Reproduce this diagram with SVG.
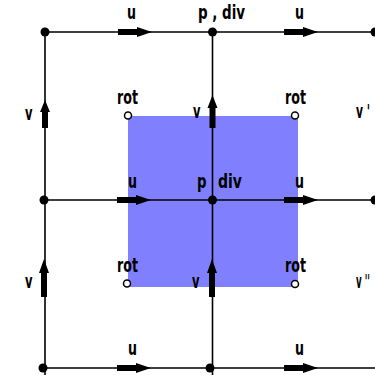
<svg xmlns="http://www.w3.org/2000/svg" width="375" height="375" viewBox="0 0 375 375">
<style>
.ln{stroke:#000;stroke-width:1.6;fill:none}
.t{font-family:"DejaVu Sans Condensed","DejaVu Sans",sans-serif;font-weight:bold;font-size:20px;fill:#000}
.dot{fill:#000}
.oc{fill:#fff;stroke:#000;stroke-width:1.5}
</style>
<defs>
<path id="ah" d="M0,-3 H19 V-5 L34,0 L19,5 V3 H0 Z" fill="#000"/>
<path id="avs" d="M-3,0 V-16 H-5 L0,-28 L5,-16 H3 V0 Z" fill="#000"/>
<path id="avl" d="M-3,0 V-24 H-5 L0,-38 L5,-24 H3 V0 Z" fill="#000"/>
<path id="avm" d="M-3,0 V-20 H-5 L0,-33 L5,-20 H3 V0 Z" fill="#000"/>
</defs>
<rect id="cell" x="128" y="116" width="170" height="171" fill="#8080ff"/>
<g id="connectors">
<path class="ln" d="M45,32 H375 M45,200 H375 M43,368 H375 M45,32 V375 M212.5,32 V375"/>
<use href="#ah" x="118" y="32"/>
<use href="#ah" x="284" y="32"/>
<use href="#ah" x="117" y="200"/>
<use href="#ah" x="284" y="200"/>
<use href="#ah" x="117" y="368"/>
<use href="#ah" x="284" y="368"/>
<use href="#avs" x="45" y="128"/>
<use href="#avm" x="212.5" y="128"/>
<use href="#avl" x="44" y="297"/>
<use href="#avl" x="212" y="297"/>
</g>
<g id="nodes">
<circle class="dot" cx="45" cy="32" r="4.5"/>
<circle class="dot" cx="212.5" cy="32" r="4.5"/>
<circle class="dot" cx="375" cy="32" r="4.5"/>
<circle class="dot" cx="44" cy="200" r="4.5"/>
<circle class="dot" cx="212.5" cy="200" r="4.5"/>
<circle class="dot" cx="375" cy="200" r="4.5"/>
<circle class="dot" cx="43" cy="368" r="4.5"/>
<circle class="dot" cx="210" cy="368" r="4.5"/>
<circle class="oc" cx="128" cy="115.5" r="3.5"/>
<circle class="oc" cx="295" cy="115.5" r="3.5"/>
<circle class="oc" cx="127" cy="283.5" r="3.5"/>
<circle class="oc" cx="295" cy="284" r="3.5"/>
</g>
<g id="labels">
<text class="t" x="127" y="19" textLength="9" lengthAdjust="spacingAndGlyphs">u</text>
<text class="t" x="198" y="19" textLength="47" lengthAdjust="spacingAndGlyphs">p , div</text>
<text class="t" x="295" y="19" textLength="9" lengthAdjust="spacingAndGlyphs">u</text>
<text class="t" x="25" y="120" textLength="7.5" lengthAdjust="spacingAndGlyphs">v</text>
<text class="t" x="117" y="104" textLength="21" lengthAdjust="spacingAndGlyphs">rot</text>
<text class="t" x="193" y="118" textLength="7.5" lengthAdjust="spacingAndGlyphs">v</text>
<text class="t" x="285" y="104" textLength="21" lengthAdjust="spacingAndGlyphs">rot</text>
<text class="t" x="356" y="118" textLength="14" lengthAdjust="spacingAndGlyphs">v '</text>
<text class="t" x="128" y="188" textLength="9" lengthAdjust="spacingAndGlyphs">u</text>
<text class="t" x="197" y="188" textLength="9.5" lengthAdjust="spacingAndGlyphs">p</text>
<text class="t" x="218" y="188" textLength="24" lengthAdjust="spacingAndGlyphs">div</text>
<text class="t" x="295" y="188" textLength="9" lengthAdjust="spacingAndGlyphs">u</text>
<text class="t" x="25" y="288" textLength="7.5" lengthAdjust="spacingAndGlyphs">v</text>
<text class="t" x="117" y="272" textLength="21" lengthAdjust="spacingAndGlyphs">rot</text>
<text class="t" x="192" y="288" textLength="7.5" lengthAdjust="spacingAndGlyphs">v</text>
<text class="t" x="285" y="272" textLength="21" lengthAdjust="spacingAndGlyphs">rot</text>
<text class="t" x="356" y="288" textLength="14" lengthAdjust="spacingAndGlyphs">v ''</text>
<text class="t" x="128" y="355" textLength="9" lengthAdjust="spacingAndGlyphs">u</text>
<text class="t" x="295" y="355" textLength="9" lengthAdjust="spacingAndGlyphs">u</text>
</g>
</svg>
